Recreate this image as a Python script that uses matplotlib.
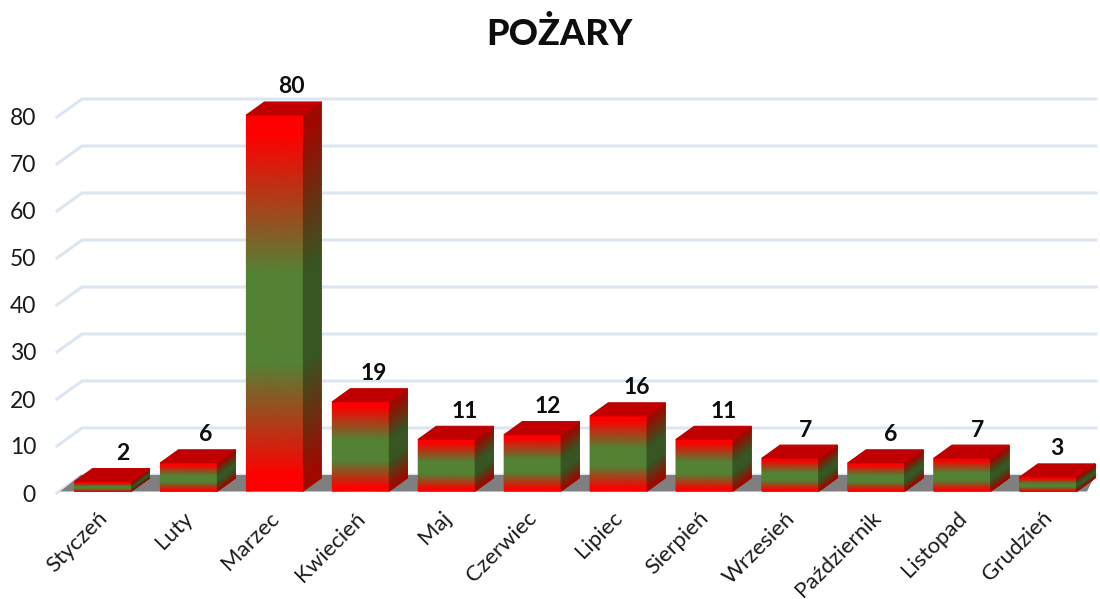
import numpy as np
import matplotlib
matplotlib.use("Agg")
import matplotlib.pyplot as plt
from matplotlib.colors import LinearSegmentedColormap
from matplotlib.patches import Polygon

# ---- data ----
months = ["Styczeń", "Luty", "Marzec", "Kwiecień", "Maj", "Czerwiec", "Lipiec",
          "Sierpień", "Wrzesień", "Październik", "Listopad", "Grudzień"]
fires = [2, 6, 80, 19, 11, 12, 16, 11, 7, 6, 7, 3]
y_ticks = [0, 10, 20, 30, 40, 50, 60, 70, 80]
title = "POŻARY"

# ---- layout (pixels of the 1100x599 canvas) ----
W, H = 1100, 599
PX_CAT, X0_PX = 85.95, 103.0
PX_VAL, Y0_PX = 4.7, 491.0
label_nudge_px = [20, 17, 17, 13, 18, 15, 18, 19, 15, 14, 15, 8]

def dx(p): return p / PX_CAT
def dy(p): return p / PX_VAL

fig = plt.figure(figsize=(W / 100, H / 100), dpi=100, facecolor="white")
ax = fig.add_axes([0, 0, 1, 1])
ax.set_xlim((0 - X0_PX) / PX_CAT, (W - X0_PX) / PX_CAT)
ax.set_ylim((Y0_PX - H) / PX_VAL, Y0_PX / PX_VAL)
ax.axis("off")

FONT = "Lato"
BAR_W = dx(57)
DEPTH_X, DEPTH_Y = dx(18), dy(13)
GRID = "#DCE6F2"

# back wall + side wall gridlines
gx0, gx1, gx2 = dx(57 - X0_PX), dx(82 - X0_PX), dx(1096 - X0_PX)
g_off = dy(2)
g_dep = dy(18)
for t in y_ticks:
    y = t - g_off
    ax.plot([gx0, gx1, gx2], [y, y + g_dep, y + g_dep], color=GRID, lw=2.2,
            solid_joinstyle="miter", zorder=1)
    ax.text(dx(36 - X0_PX), y - dy(2), str(t), ha="right", va="center",
            fontsize=16.5, family=FONT, color="#1a1a1a", zorder=5)

# floor
ax.add_patch(Polygon([(dx(60 - X0_PX), dy(-0.5)), (dx(81 - X0_PX), dy(16)),
                      (dx(1095 - X0_PX), dy(16)), (dx(1087 - X0_PX), dy(-0.5))],
                     closed=True, fc="#7F7F7F", ec="none", zorder=2))

stops = [(0.0, 0), (0.04, 0), (0.34, 1), (0.58, 1), (0.95, 0), (1.0, 0)]
def ramp(name, red, green):
    mix = [(p, green if c else red) for p, c in stops]
    return LinearSegmentedColormap.from_list(name, mix, N=256)

front_cm = ramp("front", "#FF0000", "#548235")
side_cm = ramp("side", "#9E0A00", "#375623")
TOP = "#C00000"
frac = np.linspace(0, 1, 120)
shade = np.vstack([frac, frac]).T

for i, (m, v) in enumerate(zip(months, fires)):
    l, r = i - BAR_W / 2, i + BAR_W / 2
    ys = frac * v
    # front face
    X = np.column_stack([np.full_like(ys, l), np.full_like(ys, r)])
    Y = np.column_stack([ys, ys])
    ax.pcolormesh(X, Y, shade, cmap=front_cm, vmin=0, vmax=1, shading="gouraud", zorder=3)
    # side face
    X = np.column_stack([np.full_like(ys, r), np.full_like(ys, r + DEPTH_X)])
    Y = np.column_stack([ys, ys + DEPTH_Y])
    ax.pcolormesh(X, Y, shade, cmap=side_cm, vmin=0, vmax=1, shading="gouraud", zorder=3)
    # top face
    ax.add_patch(Polygon([(l, v), (r, v), (r + DEPTH_X, v + DEPTH_Y), (l + DEPTH_X, v + DEPTH_Y)],
                         closed=True, fc=TOP, ec=TOP, lw=0.8, joinstyle="round", zorder=4))
    # value label
    ax.text(i + dx(label_nudge_px[i]), v + DEPTH_Y + dy(15), str(v), ha="center", va="center",
            fontsize=16.5, fontweight="bold", family=FONT, color="#0d0d0d", zorder=6)
    # category label
    ax.text(i + dx(1), dy(-24), m, rotation=45, rotation_mode="anchor", ha="right", va="center",
            fontsize=16, family=FONT, color="#1a1a1a", zorder=6)

ax.text(dx(559 - X0_PX), (Y0_PX - 34) / PX_VAL, title, ha="center", va="center",
        fontsize=26, fontweight="black", family=FONT, color="#0d0d0d")

fig.savefig("out.png", dpi=100)
